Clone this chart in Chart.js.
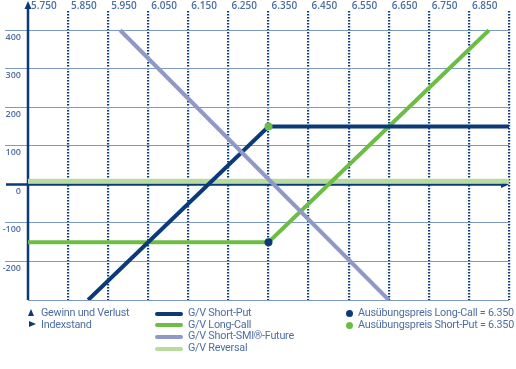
<!DOCTYPE html>
<html>
<head>
<meta charset="utf-8">
<script src="https://cdn.jsdelivr.net/npm/chart.js@4.4.0/dist/chart.umd.min.js"></script>
<style>
  body { margin: 0; background: #fff; }
  #wrap { position: relative; width: 516px; height: 369px; }
  #legend { position: absolute; left: 0; top: 0; width: 516px; height: 369px; pointer-events: none;
    font-family: Roboto, sans-serif; font-size: 10.8px; color: #4d6ea3; letter-spacing: -0.25px; }
  #legend div { position: absolute; white-space: nowrap; line-height: 12px; }
  .sw { position: absolute; width: 28px; height: 4px; border-radius: 2px; }
  .dot { position: absolute; width: 7px; height: 7px; border-radius: 50%; }
  .tri { position: absolute; width: 0; height: 0; }
</style>
</head>
<body>
<div id="wrap">
  <canvas id="chart" width="516" height="369"></canvas>
  <div id="legend"></div>
</div>
<script>
    // Indexstand / Gewinn und Verlust
    const xTicks = [5750, 5850, 5950, 6050, 6150, 6250, 6350, 6450, 6550, 6650, 6750, 6850, 6950];
    const yTicks = [-300, -200, -100, 0, 100, 200, 300, 400];

    const shortPutX = [5900, 6350, 6950];
    const shortPutY = [-300, 150, 150];

    const longCallX = [5750, 6350, 6900];
    const longCallY = [-150, -150, 400];

    const futureX = [5980, 6650];
    const futureY = [400, -300];

    const reversalX = [5750, 6950];
    const reversalY = [8, 8];

    const strikeLongCall = [6350, -150];
    const strikeShortPut = [6350, 150];

    const navy = "#0b3a78";
    const green = "#6dbd45";
    const lavender = "#8e98c9";
    const lightGreen = "#b8dba0";
    const textColor = "#4d6ea3";

    function pts(xs, ys) {
        return xs.map(function (x, i) { return { x: x, y: ys[i] } })
    }

    function fmt(v) {
        return String(v).replace(/(\d)(\d{3})$/, "$1.$2")
    }

    // axis lines with arrows
    const axisPlugin = {
        id: 'axisArrows',
        beforeDatasetsDraw: function (chart) {
            const c = chart.ctx;
            const xs = chart.scales.x;
            const ys = chart.scales.y;
            const x0 = xs.getPixelForValue(5750);
            const y0 = ys.getPixelForValue(0);
            c.save();
            c.strokeStyle = navy;
            c.fillStyle = navy;
            c.lineWidth = 2.5;
            c.beginPath();
            c.moveTo(x0, chart.chartArea.bottom);
            c.lineTo(x0, 8);
            c.moveTo(6, y0);
            c.lineTo(xs.getPixelForValue(6950) - 4, y0);
            c.stroke();
            c.beginPath();
            c.moveTo(x0, 1);
            c.lineTo(x0 - 3.5, 9);
            c.lineTo(x0 + 3.5, 9);
            c.fill();
            const xr = xs.getPixelForValue(6950);
            c.beginPath();
            c.moveTo(xr, y0);
            c.lineTo(xr - 8, y0 - 3.5);
            c.lineTo(xr - 8, y0 + 3.5);
            c.fill();
            c.restore();
        }
    }

    const ctx = document.getElementById("chart");

    new Chart(ctx, {
        type: "scatter",
        data: {
            datasets: [{
                label: "G/V Reversal",
                data: pts(reversalX, reversalY),
                showLine: true,
                borderColor: lightGreen,
                borderWidth: 5,
                pointRadius: 0,
                order: 5
            }, {
                label: "G/V Long-Call",
                data: pts(longCallX, longCallY),
                showLine: true,
                borderColor: green,
                borderWidth: 4,
                pointRadius: 0,
                order: 4
            }, {
                label: "G/V Short-Put",
                data: pts(shortPutX, shortPutY),
                showLine: true,
                borderColor: navy,
                borderWidth: 4,
                pointRadius: 0,
                order: 3
            }, {
                label: "G/V Short-SMI®-Future",
                data: pts(futureX, futureY),
                showLine: true,
                borderColor: lavender,
                borderWidth: 4,
                pointRadius: 0,
                order: 2
            }, {
                label: "Ausübungspreis Long-Call = 6.350",
                data: [{ x: strikeLongCall[0], y: strikeLongCall[1] }],
                backgroundColor: navy,
                borderWidth: 0,
                pointRadius: 4,
                order: 1
            }, {
                label: "Ausübungspreis Short-Put = 6.350",
                data: [{ x: strikeShortPut[0], y: strikeShortPut[1] }],
                backgroundColor: green,
                borderWidth: 0,
                pointRadius: 4,
                order: 1
            }]
        },
        options: {
            responsive: false,
            animation: false,
            layout: {
                padding: { left: 0, right: 7, top: 0, bottom: 69 }
            },
            plugins: {
                legend: { display: false },
                tooltip: { enabled: false }
            },
            scales: {
                x: {
                    type: "linear",
                    position: "top",
                    min: 5750,
                    max: 6950,
                    afterBuildTicks: function (scale) {
                        scale.ticks = xTicks.map(function (v) { return { value: v } })
                    },
                    afterFit: function (scale) { scale.height = 11 },
                    grid: {
                        drawTicks: false,
                        lineWidth: 2.2,
                        color: function (c) {
                            return c.tick && c.tick.value === 5750 ? "rgba(0,0,0,0)" : "#0a3a80"
                        }
                    },
                    border: { display: false, dash: [1.6, 1.4] },
                    ticks: {
                        align: "start",
                        padding: -1,
                        labelOffset: 3,
                        color: textColor,
                        font: { family: "Open Sans", size: 10, weight: "600" },
                        callback: function (v) { return v >= 6950 ? "" : fmt(v) }
                    }
                },
                y: {
                    type: "linear",
                    min: -300,
                    max: 450,
                    afterBuildTicks: function (scale) {
                        scale.ticks = yTicks.map(function (v) { return { value: v } })
                    },
                    afterFit: function (scale) { scale.width = 28 },
                    grid: {
                        drawTicks: true,
                        tickLength: 23,
                        lineWidth: 1,
                        color: function (c) {
                            return c.tick && c.tick.value === 0 ? "rgba(0,0,0,0)" : "#7e99c4"
                        },
                        tickColor: function (c) {
                            return c.tick && (c.tick.value === 0 || c.tick.value === -300) ? "rgba(0,0,0,0)" : "#7e99c4"
                        }
                    },
                    border: { display: false },
                    ticks: {
                        padding: -16,
                        labelOffset: 7,
                        color: textColor,
                        font: { family: "Open Sans", size: 9, weight: "600" },
                        callback: function (v) { return v === -300 ? "" : String(v) }
                    }
                }
            }
        },
        plugins: [axisPlugin]
    })

    // legend below the chart
    var lg = document.getElementById("legend");
    var html = "";
    html += '<span class="tri" style="left:28px;top:309px;border-left:3.5px solid transparent;border-right:3.5px solid transparent;border-bottom:7px solid ' + navy + '"></span>';
    html += '<div style="left:41px;top:307px">Gewinn und Verlust</div>';
    html += '<span class="tri" style="left:29px;top:321px;border-top:3.5px solid transparent;border-bottom:3.5px solid transparent;border-left:7px solid ' + navy + '"></span>';
    html += '<div style="left:41px;top:319px">Indexstand</div>';

    var lines = [["G/V Short-Put", navy], ["G/V Long-Call", green], ["G/V Short-SMI®-Future", lavender], ["G/V Reversal", lightGreen]];
    lines.forEach(function (l, i) {
        var t = 307 + i * 11.7;
        html += '<span class="sw" style="left:155px;top:' + (t + 4.5) + 'px;background:' + l[1] + '"></span>';
        html += '<div style="left:188px;top:' + t + 'px">' + l[0] + '</div>';
    });

    var dots = [["Ausübungspreis Long-Call = 6.350", navy], ["Ausübungspreis Short-Put = 6.350", green]];
    dots.forEach(function (d, i) {
        var t = 307 + i * 11.7;
        html += '<span class="dot" style="left:346px;top:' + (t + 3) + 'px;background:' + d[1] + '"></span>';
        html += '<div style="left:358px;top:' + t + 'px">' + d[0] + '</div>';
    });
    lg.innerHTML = html;
</script>
</body>
</html>
